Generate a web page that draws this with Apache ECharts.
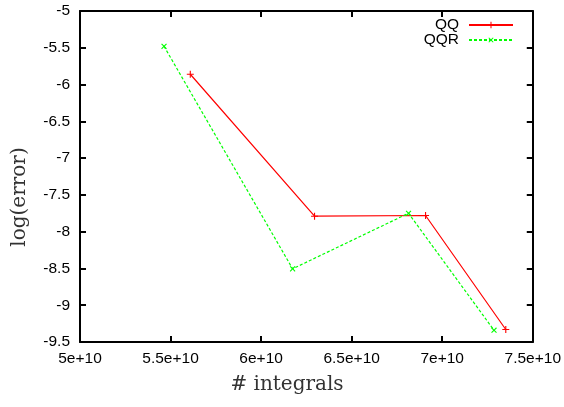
<!DOCTYPE html>
<html><head><meta charset="utf-8">
<script src="https://cdn.jsdelivr.net/npm/echarts@6/dist/echarts.min.js"></script>
<style>html,body{margin:0;padding:0;background:#fff}#c{width:564px;height:407px}</style>
</head><body><div id="c"></div>
<script>
const qqX = [5.609e10, 6.295e10, 6.908e10, 7.351e10];
const qqY = [-5.86, -7.79, -7.78, -9.33];
const qqrX = [5.464e10, 6.174e10, 6.814e10, 7.286e10];
const qqrY = [-5.48, -8.505, -7.75, -9.34];
const seriesNames = ['QQ', 'QQR'];
const xTitle = '# integrals';
const yTitle = 'log(error)';

const plusPath = 'path://M4.2,0H5.8V4.2H10V5.8H5.8V10H4.2V5.8H0V4.2H4.2Z';
const chart = echarts.init(document.getElementById('c'));
const tickFont = {fontFamily: 'Liberation Sans', fontSize: 15.5, color: '#000'};
const line = {show: true, lineStyle: {color: '#000', width: 2}};
const tick = {show: true, inside: true, length: 6, lineStyle: {color: '#000', width: 2}};
const titleFont = {fontFamily: 'DejaVu Serif', fontSize: 20, fill: '#333'};
chart.setOption({
  animation: false,
  grid: {left: 80, top: 11, right: 31, bottom: 65},
  legend: {
    orient: 'vertical', align: 'right', right: 45, top: 12, itemGap: -1,
    itemWidth: 44, itemHeight: 8,
    textStyle: {fontFamily: 'Liberation Sans', fontSize: 15.5, color: '#000', padding: [0, 5, 0, 0]},
    data: seriesNames
  },
  graphic: [
    {type: 'text', x: 287, y: 385, style: Object.assign({text: xTitle, align: 'center', verticalAlign: 'middle'}, titleFont)},
    {type: 'text', x: 20, y: 197, rotation: Math.PI / 2, style: Object.assign({text: yTitle, align: 'center', verticalAlign: 'middle'}, titleFont)}
  ],
  xAxis: [{
    type: 'value', min: 5e10, max: 7.5e10, interval: 0.5e10,
    axisLine: line, axisTick: tick, splitLine: {show: false},
    axisLabel: Object.assign({margin: 9, formatter: v => (v / 1e10) + 'e+10'}, tickFont)
  }, {
    type: 'value', position: 'top', min: 5e10, max: 7.5e10, interval: 0.5e10,
    axisLine: line, axisTick: tick, splitLine: {show: false}, axisLabel: {show: false}
  }],
  yAxis: [{
    type: 'value', min: -9.5, max: -5, interval: 0.5,
    axisLine: line, axisTick: tick, splitLine: {show: false},
    axisLabel: Object.assign({margin: 10}, tickFont)
  }, {
    type: 'value', position: 'right', min: -9.5, max: -5, interval: 0.5,
    axisLine: line, axisTick: tick, splitLine: {show: false}, axisLabel: {show: false}
  }],
  series: [{
    name: seriesNames[0], type: 'line', data: qqX.map((x, i) => [x, qqY[i]]),
    symbol: plusPath, symbolSize: 7, showAllSymbol: true,
    lineStyle: {color: '#ff0000', width: 1.2}, itemStyle: {color: '#ff0000'}
  }, {
    name: seriesNames[1], type: 'line', data: qqrX.map((x, i) => [x, qqrY[i]]),
    symbol: plusPath, symbolSize: 7, symbolRotate: 45, showAllSymbol: true,
    lineStyle: {color: '#00ff00', width: 1.2, type: [3, 2]}, itemStyle: {color: '#00ff00'}
  }]
});
</script></body></html>
